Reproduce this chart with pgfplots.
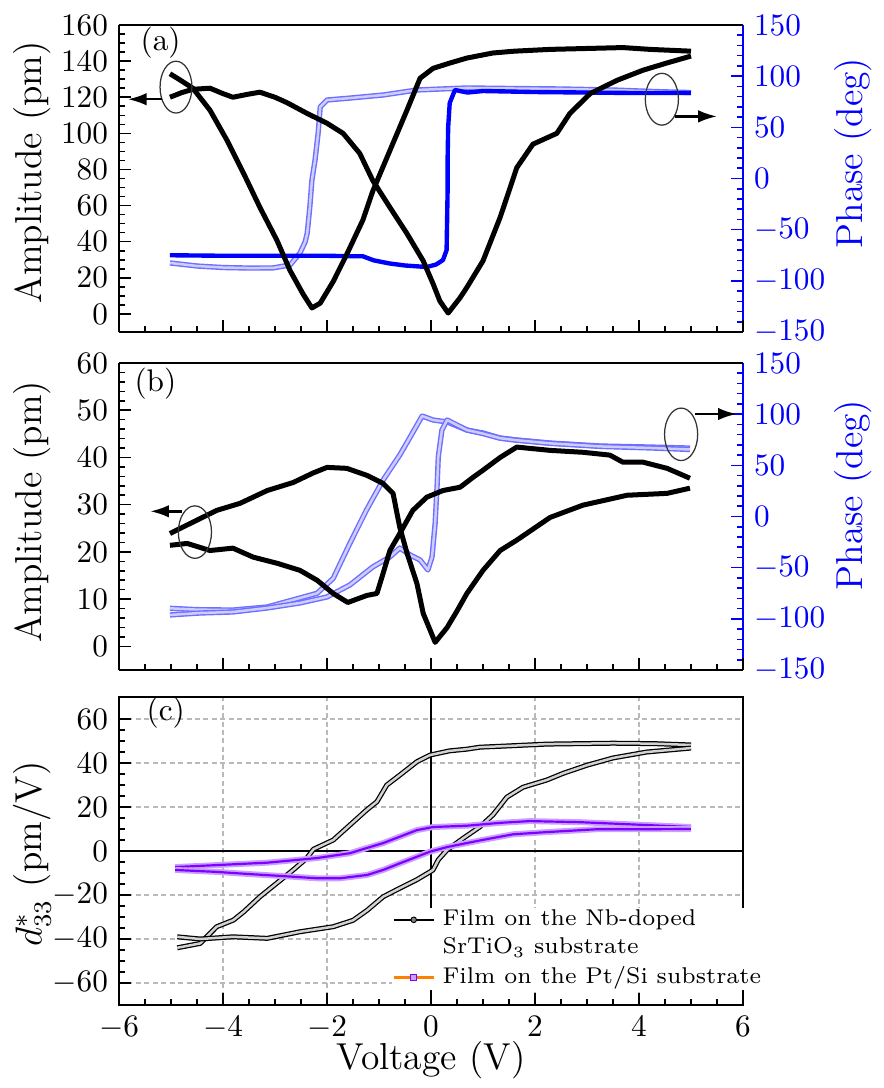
\documentclass[border=0pt]{standalone}
\usepackage{pgfplots}
\pgfplotsset{compat=1.18}
\usetikzlibrary{arrows.meta}
\definecolor{lblue}{RGB}{110,110,255}
\definecolor{llblue}{RGB}{205,205,255}
\definecolor{dblue}{RGB}{0,0,255}
\definecolor{vio}{RGB}{128,0,255}
\definecolor{lvio}{RGB}{200,160,255}
\tikzset{arr/.style={-{Latex[length=6pt,width=4pt]}, line width=0.8pt}}
\begin{document}
\begin{tikzpicture}
\pgfplotsset{
  base/.style={
    scale only axis, width=199.68pt,
    xmin=-6, xmax=6, xtick={-6,-4,...,6}, minor x tick num=3,
    tick align=inside, major tick length=3.8pt, minor tick length=1.8pt,
    tick style={black, line width=0.5pt},
    axis line style={line width=0.8pt, -},
    tick label style={font=\normalsize},
    label style={font=\large},
  },
  ampaxis/.style={base, axis x line*=box, axis y line*=left, xtick pos=left, xticklabels={}},
  phaseaxis/.style={base, axis x line=none, axis y line*=right,
     ymin=-150, ymax=150, ytick={-150,-100,...,150}, minor y tick num=4,
     axis line style={dblue, line width=0.8pt, -}, yticklabel style={dblue},
     tick style={dblue, line width=0.5pt}, ylabel={Phase (deg)}},
  blk/.style={black, line width=1.6pt, line join=round, no marks},
  lb/.style={draw=lblue, double=llblue, line width=0.45pt, double distance=0.8pt, line join=round, no marks},
  db/.style={dblue, line width=1.4pt, line join=round, no marks},
}
% ---------------- panel (a) ----------------
\begin{axis}[phaseaxis, at={(0pt,0pt)}, anchor=north west, height=98.24pt,
  ylabel style={at={(axis description cs:1.176,0.583)}, anchor=center, dblue}]
\addplot[lb] coordinates {(-5.02,-82.5) (-4.5,-85.5) (-4,-87) (-3.5,-87.5) (-3.04,-87.4) (-2.71,-84.5) (-2.52,-72.8) (-2.42,-62) (-2.38,-53.3) (-2.33,-27.8) (-2.29,-1.5) (-2.23,18) (-2.17,44.5) (-2.13,70) (-2.0,76.7) (-1.56,78.6) (-0.92,81.6) (-0.27,86.5) (0.69,88.5) (1.5,88) (2.5,87.5) (3.5,86.5) (4.3,85) (5.0,84)};
\addplot[db] coordinates {(-5.02,-75) (-4,-75.5) (-3,-75.5) (-2,-75.5) (-1.5,-76) (-1.31,-76) (-1.1,-80) (-0.8,-83) (-0.5,-85) (-0.08,-86.5) (0.1,-84) (0.23,-79.7) (0.3,-70) (0.31,-40) (0.32,-10) (0.32,20) (0.33,50) (0.36,73.8) (0.46,86.5) (0.7,84) (1,85.5) (2,84.5) (3,84) (4,83.5) (5,83.6)};
\end{axis}
\begin{axis}[ampaxis, at={(0pt,0pt)}, anchor=north west, height=98.24pt,
  ymin=-10, ymax=160, ytick={0,20,...,160}, minor y tick num=3,
  ylabel={Amplitude (pm)}, ylabel style={at={(axis description cs:-0.139,0.52)}, anchor=center}]
\addplot[blk] coordinates {(-5.02,133) (-4.85,130) (-4.58,125) (-4.25,112.8) (-3.92,96) (-3.6,77.6) (-3.29,59) (-2.96,40.6) (-2.71,24) (-2.46,11) (-2.29,3.3) (-2.13,6) (-1.88,18) (-1.62,33) (-1.31,52) (-1.12,68) (-0.79,90.5) (-0.46,113) (-0.21,130.5) (0.04,136) (0.37,139) (0.69,141.7) (1.19,144.5) (1.6,145.5) (2.29,146.5) (3.0,147) (3.69,147.5) (4.21,146.5) (5.0,145.5)};
\addplot[blk] coordinates {(-5.02,120) (-4.8,122.5) (-4.58,124.4) (-4.25,125) (-4.0,122) (-3.81,120) (-3.55,121.5) (-3.29,122.8) (-3.0,120) (-2.77,117) (-2.38,111) (-2.0,105.6) (-1.69,100) (-1.37,88.9) (-1.12,73.9) (-0.79,59) (-0.46,44.4) (-0.15,29.4) (0.04,16.7) (0.17,7.2) (0.33,0.5) (0.56,9) (0.69,14.7) (1.0,29.4) (1.33,53.5) (1.65,81) (1.96,94) (2.42,100) (2.67,111) (3.06,122) (3.58,129.4) (4.08,135) (4.54,139) (5.0,142.8)};
\node at (axis cs:-5.2,150) {(a)};
\draw[gray!40!black, line width=0.4pt] (axis cs:-4.904,125.6) ellipse [x radius=5.1pt, y radius=8.3pt];
\draw[gray!40!black, line width=0.4pt] (axis cs:4.44,118.9) ellipse [x radius=5.3pt, y radius=8.3pt];
\draw[arr] (axis cs:-5.17,118.9) -- (axis cs:-5.83,118.9);
\draw[arr] (axis cs:4.69,109.4) -- (axis cs:5.5,109.4);
\end{axis}
% ---------------- panel (b) ----------------
\begin{axis}[phaseaxis, at={(0pt,-108.16pt)}, anchor=north west, height=98.24pt,
  ylabel style={at={(axis description cs:1.176,0.57)}, anchor=center, dblue}]
\addplot[lb] coordinates {(-5.02,-89.7) (-4.5,-91) (-3.81,-91.4) (-3.15,-88.4) (-2.52,-79.6) (-2.19,-75) (-1.88,-60.4) (-1.56,-26.2) (-1.24,6.4) (-0.92,35.7) (-0.6,60.1) (-0.4,77.7) (-0.17,98.2) (0.04,94.3) (0.31,92.4) (0.69,84.5) (1.0,81.6) (1.33,76.7) (1.65,74.8) (2.29,71.8) (3.25,68.9) (4.21,67.9) (4.98,66.9)};
\addplot[lb] coordinates {(-5.02,-96.2) (-4.44,-94.3) (-3.81,-93.3) (-3.15,-89.4) (-2.52,-84.5) (-2.0,-78.6) (-1.56,-66.9) (-1.12,-49.3) (-0.79,-39.5) (-0.6,-30.8) (-0.4,-37.6) (-0.21,-42.5) (-0.06,-52.2) (0.02,-39.5) (0.08,-6.3) (0.12,32.8) (0.14,58.2) (0.21,84.5) (0.31,94.3) (0.69,84.5) (1.0,81) (1.33,76.5) (1.65,74.5) (2.29,71.5) (3.25,68.5) (4.21,67) (4.98,65.5)};
\end{axis}
\begin{axis}[ampaxis, at={(0pt,-108.16pt)}, anchor=north west, height=98.24pt,
  ymin=-5, ymax=60, ytick={0,10,...,60}, minor y tick num=4,
  ylabel={Amplitude (pm)}, ylabel style={at={(axis description cs:-0.139,0.515)}, anchor=center}]
\addplot[blk] coordinates {(-5.02,23.9) (-4.58,26.3) (-4.12,28.8) (-3.67,30.3) (-3.15,33) (-2.65,34.7) (-2.27,36.7) (-2.0,37.9) (-1.62,37.7) (-1.23,36.2) (-0.92,34.5) (-0.73,32.4) (-0.6,25.2) (-0.46,19.7) (-0.27,13.3) (-0.15,7) (0.08,0.85) (0.31,4) (0.5,7.5) (0.69,11.2) (1.0,16.1) (1.33,20.3) (1.65,22.5) (2.29,27.3) (2.92,29.9) (3.77,32) (4.54,32.4) (4.98,33.5)};
\addplot[blk] coordinates {(-5.02,21.4) (-4.69,21.8) (-4.25,20.3) (-3.81,20.8) (-3.42,18.9) (-2.96,17.6) (-2.52,16.1) (-2.19,14) (-1.88,11.2) (-1.6,9.3) (-1.23,10.8) (-1.04,11.2) (-0.92,15.5) (-0.79,20.3) (-0.6,23.9) (-0.35,28.8) (-0.08,31.6) (0.23,33) (0.56,33.7) (0.81,35.8) (1.0,37.3) (1.33,40) (1.65,42.2) (2.29,41.5) (2.92,41.1) (3.44,40.5) (3.69,39) (4.08,39) (4.54,37.7) (4.98,35.6)};
\node at (axis cs:-5.3,55.7) {(b)};
\draw[gray!40!black, line width=0.4pt] (axis cs:-4.54,24.2) ellipse [x radius=5.3pt, y radius=8.4pt];
\draw[gray!40!black, line width=0.4pt] (axis cs:4.81,44.9) ellipse [x radius=5.3pt, y radius=8.4pt];
\draw[arr] (axis cs:-4.79,28.6) -- (axis cs:-5.40,28.6);
\draw[arr] (axis cs:5.08,49.2) -- (axis cs:5.88,49.2);
\end{axis}
% ---------------- panel (c) ----------------
\begin{axis}[base, at={(0pt,-215.04pt)}, anchor=north west, height=98.56pt,
  tick pos=left,
  ymin=-70, ymax=70, ytick={-60,-40,...,60}, minor y tick num=3,
  grid=major, major grid style={gray!55, line width=0.4pt, dash pattern=on 1.6pt off 1.1pt},
  xlabel={Voltage (V)}, xlabel style={at={(axis description cs:0.5,-0.179)}, anchor=center},
  ylabel={$d_{33}^{*}$ (pm/V)}, ylabel style={at={(axis description cs:-0.139,0.49)}, anchor=center},
  legend image code/.code={\draw[mark repeat=2,mark phase=2,#1] plot coordinates {(0pt,0pt) (6.4pt,0pt) (12.8pt,0pt)};},
  legend style={at={(axis description cs:0.437,0.318)}, anchor=north west, draw=none, fill=white,
    inner sep=0pt, row sep=1.3pt, nodes={inner sep=0.6pt}, font=\fontsize{7.3}{8.5}\selectfont,
    /tikz/every odd column/.append style={column sep=1.8pt}, legend cell align=left},
]
\addplot[black, line width=0.8pt, forget plot] coordinates {(-6,0) (6,0)};
\addplot[black, line width=0.8pt, forget plot] coordinates {(0,-70) (0,70)};
\addplot[draw=black, double=gray!35, line width=0.4pt, double distance=0.8pt, line join=round, forget plot] coordinates {(-4.88,-44) (-4.44,-42) (-4.12,-34.4) (-3.8,-31.4) (-3.6,-27.6) (-3.29,-20.8) (-2.97,-14.7) (-2.65,-8.6) (-2.39,-3.3) (-2.26,0.8) (-1.88,5) (-1.56,11.8) (-1.24,18.6) (-1.04,22.4) (-0.85,30) (-0.6,34.5) (-0.27,40.6) (-0.02,43.6) (0.35,45.5) (0.69,46.3) (0.94,47.2) (1.33,47.6) (2.23,48.6) (3.5,49) (4.3,48.8) (5.0,48.2)};
\addplot[draw=black, double=gray!35, line width=0.4pt, double distance=0.8pt, line join=round, forget plot] coordinates {(-4.88,-39) (-4.44,-40) (-3.81,-39) (-3.15,-39.7) (-2.52,-36.7) (-1.88,-34.4) (-1.5,-31.5) (-1.23,-27) (-0.92,-20.8) (-0.6,-16.9) (-0.27,-13) (-0.02,-9.5) (0.04,-8.6) (0.14,-4) (0.31,0.5) (0.62,5.8) (0.94,11) (1.19,16.4) (1.46,24.5) (1.77,29) (2.23,32.3) (2.54,35.3) (3.0,39) (3.5,42.3) (4.15,45) (5.0,46.8)};
\addplot[draw=lvio, double=vio, line width=0.6pt, double distance=0.7pt, line join=round, forget plot] coordinates {(-4.92,-7.3) (-4.12,-6.4) (-3.15,-5.3) (-2.19,-3.2) (-1.56,-1) (-1.23,1.4) (-0.92,3.6) (-0.6,6.5) (-0.27,9.5) (0.04,10.9) (0.69,11.5) (1.33,12.8) (1.9,13.6) (2.87,13.1) (4.15,11.8) (5.0,10.9)};
\addplot[draw=lvio, double=vio, line width=0.6pt, double distance=0.7pt, line join=round, forget plot] coordinates {(-4.92,-8.6) (-4.12,-9.5) (-3.48,-10.5) (-2.85,-11.4) (-2.19,-12.4) (-1.75,-12.4) (-1.23,-10.9) (-0.92,-8.6) (-0.6,-5.6) (-0.27,-2.6) (-0.02,-0.3) (0.31,1.8) (0.94,4.8) (1.58,7.6) (2.23,8.6) (3.19,9.9) (4.15,9.9) (5.0,10)};
\addlegendimage{black, line width=0.8pt, mark=*, mark size=0.9pt, mark options={fill=gray, draw=black, line width=0.3pt}}
\addlegendentry{Film on the Nb-doped}
\addlegendimage{empty legend}
\addlegendentry{SrTiO$_3$ substrate}
\addlegendimage{orange, line width=0.9pt, mark=square*, mark size=1pt, mark options={fill=lvio, draw=vio, line width=0.3pt}}
\addlegendentry{Film on the Pt/Si substrate}
\node at (axis cs:-5.1,62.7) {(c)};
\end{axis}
\pgfresetboundingbox
\path[use as bounding box] (-38.08pt,8pt) rectangle (244.8pt,-340.16pt);
\end{tikzpicture}
\end{document}
